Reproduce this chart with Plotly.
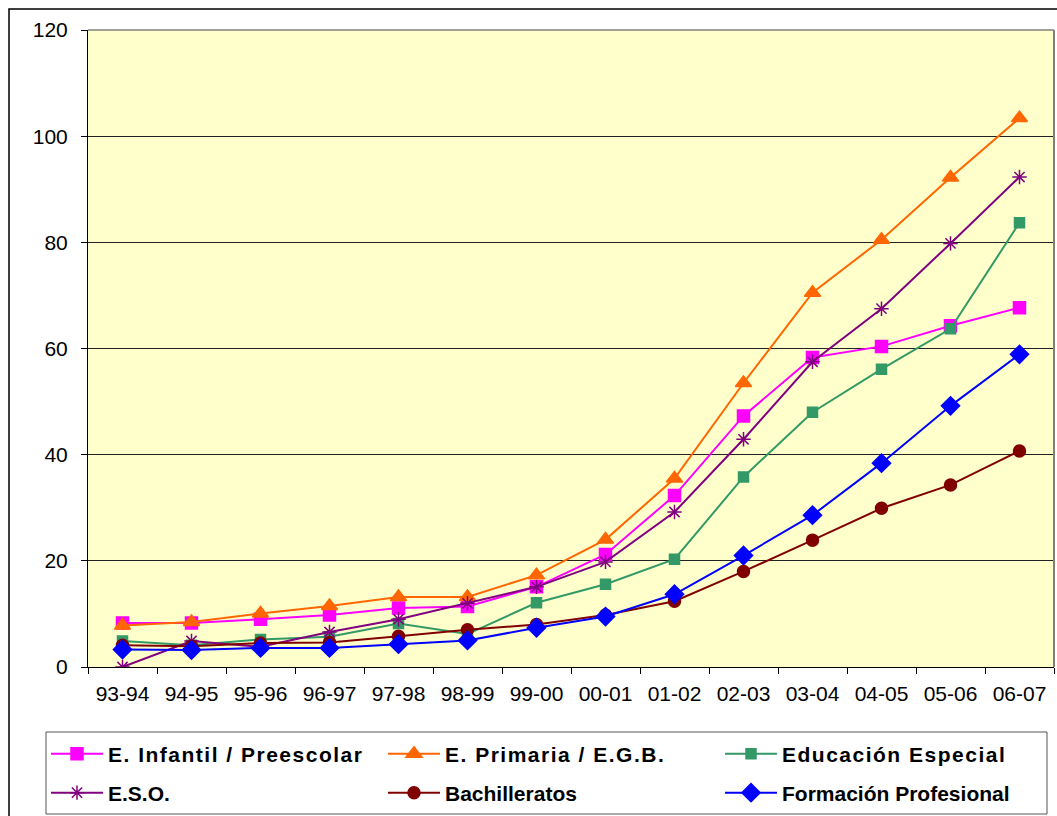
import plotly.graph_objects as go

# School years on the category axis
years = ["93-94", "94-95", "95-96", "96-97", "97-98", "98-99", "99-00",
         "00-01", "01-02", "02-03", "03-04", "04-05", "05-06", "06-07"]

# Values per education level
infantil = [8.3, 8.3, 9.0, 9.8, 11.1, 11.4, 15.1, 21.2, 32.3, 47.3, 58.3, 60.4, 64.3, 67.7]
primaria = [7.8, 8.5, 10.1, 11.5, 13.2, 13.2, 17.3, 24.0, 35.5, 53.5, 70.5, 80.5, 92.2, 103.4]
especial = [4.9, 4.1, 5.2, 5.7, 8.2, 6.2, 12.1, 15.6, 20.3, 35.8, 48.0, 56.1, 63.7, 83.7]
eso = [0.0, 4.9, 3.8, 6.6, 9.0, 12.0, 15.1, 19.8, 29.2, 42.9, 57.5, 67.5, 79.8, 92.3]
bachilleratos = [4.1, 3.9, 4.5, 4.6, 5.8, 7.0, 8.0, 9.8, 12.4, 18.0, 23.9, 29.9, 34.3, 40.7]
fp = [3.3, 3.2, 3.6, 3.6, 4.3, 5.0, 7.4, 9.5, 13.7, 21.0, 28.6, 38.4, 49.2, 58.9]

y_ticks = [0, 20, 40, 60, 80, 100, 120]

# name, values, colour, marker symbol, marker size, legend row
series = [
    ("E. Infantil / Preescolar", infantil, "#FF00FF", "square", 12, "legend"),
    ("E. Primaria / E.G.B.", primaria, "#FF6600", "triangle-up", 14, "legend"),
    ("Educación Especial", especial, "#339966", "square", 10, "legend"),
    ("E.S.O.", eso, "#800080", "asterisk-open", 12, "legend2"),
    ("Bachilleratos", bachilleratos, "#800000", "circle", 12, "legend2"),
    ("Formación Profesional", fp, "#0000FF", "diamond", 14, "legend2"),
]

fig = go.Figure()
for name, vals, color, symbol, size, leg in series:
    fig.add_trace(go.Scatter(
        x=years, y=vals, name=name, mode="lines+markers", legend=leg,
        line=dict(color=color, width=2),
        marker=dict(symbol=symbol, size=size, color=color,
                    line=dict(color=color, width=1.5)),
    ))

W, H = 1057, 816
L, R, T, B = 88, 3, 30, 149
pw, ph = W - L - R, H - T - B

def px_x(x):
    return (x - L) / pw

def px_y(y):
    return (H - B - y) / ph

tick_font = dict(family="Liberation Sans, Arial, sans-serif", size=21, color="black")
legend_font = dict(family="Liberation Sans, Arial, sans-serif", size=21,
                   color="black", weight="bold")

def legend_row(y_px):
    return dict(
        orientation="h",
        x=px_x(46), xanchor="left",
        y=px_y(y_px), yanchor="middle",
        bgcolor="rgba(0,0,0,0)", borderwidth=0,
        font=legend_font,
        itemwidth=52,
        entrywidth=270, entrywidthmode="pixels",
        traceorder="normal",
    )

fig.update_layout(
    width=W, height=H,
    margin=dict(l=L, r=R, t=T, b=B),
    paper_bgcolor="white",
    plot_bgcolor="#FFFFCC",
    showlegend=True,
    legend=legend_row(754),
    legend2=legend_row(793),
    xaxis=dict(
        type="category", tickson="boundaries", range=[-0.5, 13.5],
        ticks="outside", ticklen=6, tickcolor="black",
        showline=True, linecolor="black", linewidth=1,
        showgrid=False, tickfont=tick_font, ticklabelstandoff=8,
    ),
    yaxis=dict(
        range=[0, 120], tickvals=y_ticks,
        ticks="outside", ticklen=6, tickcolor="black",
        showline=True, linecolor="black", linewidth=1,
        showgrid=True, gridcolor="#222222", gridwidth=1,
        zeroline=False, tickfont=tick_font, ticklabelstandoff=9,
    ),
    shapes=[
        # gray frame on top and right of the plot area
        dict(type="line", xref="paper", yref="paper", x0=0, x1=1, y0=1, y1=1,
             line=dict(color="#808080", width=1.5)),
        dict(type="line", xref="paper", yref="paper", x0=1, x1=1, y0=0, y1=1,
             line=dict(color="#808080", width=2)),
        # outer chart border
        dict(type="rect", xref="paper", yref="paper",
             x0=px_x(9), x1=px_x(1070), y0=px_y(9), y1=px_y(830),
             line=dict(color="black", width=1.5), layer="below"),
        # legend frame
        dict(type="rect", xref="paper", yref="paper",
             x0=px_x(46), x1=px_x(1047), y0=px_y(732), y1=px_y(814),
             line=dict(color="#555555", width=1), fillcolor="white", layer="below"),
    ],
)

# wider tracking on the legend labels
post = """
document.querySelectorAll('.legendtext').forEach(function(t){
  t.style.letterSpacing = '1.5px';
});
"""

fig.write_html("out.html", post_script=post)
